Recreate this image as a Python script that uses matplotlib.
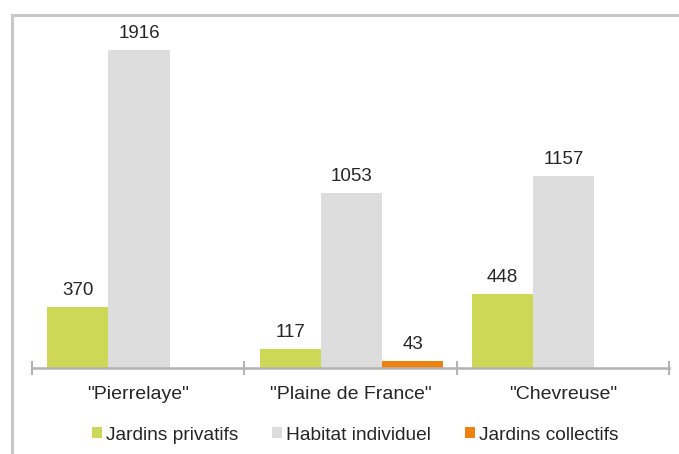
import numpy as np
import matplotlib
matplotlib.use("Agg")
import matplotlib.pyplot as plt
from matplotlib.lines import Line2D
from matplotlib.patches import Patch

plt.rcParams['font.family'] = ['Liberation Sans', 'DejaVu Sans']

categories = ['"Pierrelaye"', '"Plaine de France"', '"Chevreuse"']
series_names = ["Jardins privatifs", "Habitat individuel", "Jardins collectifs"]
jardins_privatifs = [370, 117, 448]
habitat_individuel = [1916, 1053, 1157]
jardins_collectifs = [None, 43, None]

colors = ["#cdd856", "#dddddd", "#ee8210"]
text_color = "#262626"

fig = plt.figure(figsize=(6.79, 4.54), dpi=100)
ax = fig.add_axes([32 / 679, 1 - 368 / 454, (669 - 32) / 679, (368 - 36) / 454])

x = np.arange(len(categories))
width = 0.288
start = -0.428
offsets = [start + width * (i + 0.5) for i in range(3)]
series = [jardins_privatifs, habitat_individuel, jardins_collectifs]

for vals, off, col in zip(series, offsets, colors):
    for xi, v in zip(x, vals):
        if v is None:
            continue
        ax.bar(xi + off, v, width=width, color=col, linewidth=0)
        ax.text(xi + off, v + 48, f"{v}", ha="center", va="bottom",
                fontsize=13.5, color=text_color)

ax.set_xlim(-0.5, len(categories) - 0.5)
ax.set_ylim(0, 2000)
ax.set_yticks([])
for s in ["top", "right", "left"]:
    ax.spines[s].set_visible(False)
ax.spines["bottom"].set_color("#b3b3b3")
ax.spines["bottom"].set_linewidth(1.8)

ax.set_xticks(np.arange(-0.5, len(categories)), minor=False)
ax.set_xticklabels([])
ax.tick_params(axis="x", which="major", direction="inout", length=10,
               width=1.5, color="#b3b3b3")
ax.set_xticks(x, minor=True)
ax.set_xticklabels(categories, minor=True, fontsize=14, color=text_color)
ax.tick_params(axis="x", which="minor", length=0, pad=13)

handles = [Patch(facecolor=c, edgecolor="none") for c in colors]
fig.legend(handles, series_names, loc="center", bbox_to_anchor=(355 / 679, 1 - 435 / 454),
           ncol=3, frameon=False, fontsize=13.8, handlelength=0.55, handleheight=0.55,
           handletextpad=0.2, columnspacing=1.75, labelcolor=text_color)

# light frame along the top and left edges
fig.add_artist(Line2D([12 / 679, 1], [1 - 15 / 454, 1 - 15 / 454], color="#c8c8c8", lw=2.2))
fig.add_artist(Line2D([12 / 679, 12 / 679], [0, 1 - 15 / 454], color="#c8c8c8", lw=2.2))

fig.savefig("out.png", dpi=100, facecolor="white")
